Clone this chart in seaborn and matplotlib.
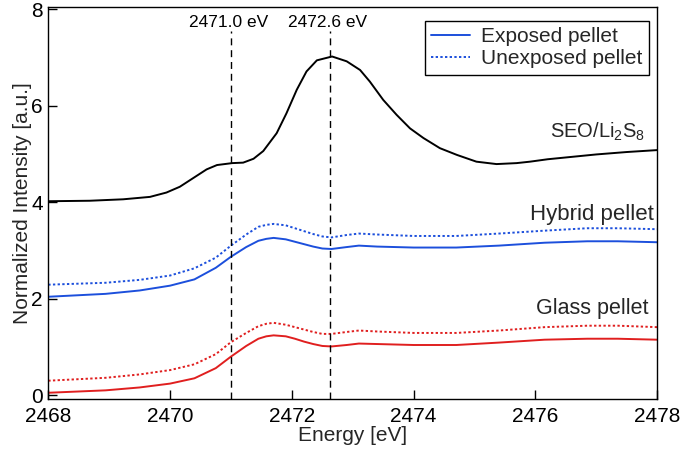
import numpy as np
import pandas as pd
import matplotlib
matplotlib.use("Agg")
import matplotlib.pyplot as plt
from matplotlib.lines import Line2D
import seaborn as sns

# ---- data ----
energy_seo = [2468.0, 2468.68, 2469.23, 2469.67, 2469.94, 2470.16, 2470.38, 2470.60,
              2470.77, 2471.02, 2471.20, 2471.37, 2471.53, 2471.75, 2471.91, 2472.08,
              2472.24, 2472.41, 2472.66, 2472.90, 2473.12, 2473.28, 2473.50, 2473.72,
              2473.94, 2474.16, 2474.43, 2474.71, 2475.03, 2475.36, 2475.69, 2475.91,
              2476.2, 2476.6, 2477.0, 2477.5, 2478.0]
seo_li2s8 = [4.02, 4.03, 4.06, 4.11, 4.20, 4.32, 4.50, 4.68,
             4.77, 4.81, 4.82, 4.90, 5.06, 5.43, 5.84, 6.33,
             6.71, 6.94, 7.02, 6.92, 6.74, 6.50, 6.12, 5.81,
             5.53, 5.33, 5.12, 4.98, 4.84, 4.79, 4.81, 4.84,
             4.89, 4.94, 4.99, 5.04, 5.08]

energy_pellet = [2468.0, 2468.94, 2469.5, 2470.0, 2470.4, 2470.75, 2471.0, 2471.25,
                 2471.45, 2471.58, 2471.7, 2471.9, 2472.05, 2472.2, 2472.35, 2472.5,
                 2472.65, 2472.9, 2473.1, 2473.4, 2474.0, 2474.7, 2475.4, 2476.15,
                 2476.85, 2477.35, 2478.0]
hybrid_exposed = [2.04, 2.10, 2.17, 2.27, 2.40, 2.64, 2.87, 3.07,
                  3.20, 3.24, 3.26, 3.23, 3.18, 3.13, 3.08, 3.04,
                  3.03, 3.07, 3.10, 3.08, 3.06, 3.06, 3.10, 3.16,
                  3.19, 3.19, 3.17]
hybrid_unexposed = [2.29, 2.33, 2.39, 2.48, 2.63, 2.85, 3.10, 3.33,
                    3.49, 3.53, 3.55, 3.52, 3.46, 3.40, 3.34, 3.29,
                    3.27, 3.32, 3.35, 3.33, 3.30, 3.30, 3.35, 3.41,
                    3.46, 3.46, 3.44]
glass_exposed = [0.05, 0.10, 0.16, 0.24, 0.35, 0.56, 0.80, 1.02,
                 1.17, 1.22, 1.24, 1.22, 1.17, 1.11, 1.06, 1.02,
                 1.01, 1.04, 1.07, 1.06, 1.04, 1.04, 1.09, 1.15,
                 1.17, 1.17, 1.15]
glass_unexposed = [0.30, 0.36, 0.43, 0.52, 0.64, 0.85, 1.10, 1.29,
                   1.43, 1.48, 1.50, 1.46, 1.41, 1.36, 1.31, 1.27,
                   1.27, 1.31, 1.34, 1.32, 1.29, 1.29, 1.34, 1.41,
                   1.44, 1.44, 1.41]

peak_lines = [2471.0, 2472.63]
peak_labels = ["2471.0 eV", "2472.6 eV"]
x_ticks = [2468, 2470, 2472, 2474, 2476, 2478]
y_ticks = [0, 2, 4, 6, 8]

# ---- style ----
sns.set_theme(style="ticks")
plt.rcParams["font.family"] = ["Liberation Sans", "DejaVu Sans"]
plt.rcParams["mathtext.fontset"] = "custom"
plt.rcParams["mathtext.rm"] = "Liberation Sans"
plt.rcParams["mathtext.it"] = "Liberation Sans"

BLUE = "#1c4fdc"
RED = "#e01f1f"
DOT = (0, (1.2, 1.2))

fig = plt.figure(figsize=(6.8, 4.55), dpi=100)
ax = fig.add_axes([0.071, 0.123, 0.8956, 0.861])

def draw(x, y, color, ls):
    df = pd.DataFrame({"Energy": x, "Intensity": y})
    sns.lineplot(data=df, x="Energy", y="Intensity", color=color, linestyle=ls,
                 linewidth=1.4, ax=ax, legend=False, sort=False)

draw(energy_seo, seo_li2s8, "black", "-")
draw(energy_pellet, hybrid_unexposed, BLUE, DOT)
draw(energy_pellet, hybrid_exposed, BLUE, "-")
draw(energy_pellet, glass_unexposed, RED, DOT)
draw(energy_pellet, glass_exposed, RED, "-")

ax.set_xlim(2468, 2478)
ax.set_ylim(-0.08, 8.04)

for xv, lab in zip(peak_lines, peak_labels):
    ax.plot([xv, xv], [-0.08, 7.55], color="black", lw=1.0, ls=(0, (5, 3.5)))
    ax.text(xv - 0.04, 7.72, lab, ha="center", va="center", fontsize=12.5, color="black")

ax.text(2477.8, 5.46, "SEO/Li$_2$S$_8$", ha="right", va="center", fontsize=14.5)
ax.text(2477.95, 3.75, "Hybrid pellet", ha="right", va="center", fontsize=16)
ax.text(2477.85, 1.80, "Glass pellet", ha="right", va="center", fontsize=15.5)

ax.set_xticks(x_ticks)
ax.set_yticks(y_ticks)
ax.tick_params(axis="both", direction="in", length=6.5, width=1, labelsize=15,
               colors="black", top=False, right=False)
ax.tick_params(axis="x", pad=6)
ax.tick_params(axis="y", pad=4)
for s in ax.spines.values():
    s.set_visible(True)
    s.set_color("black")
    s.set_linewidth(1.0)

ax.set_xlabel("Energy [eV]", fontsize=15, labelpad=0)
ax.set_ylabel("Normalized Intensity [a.u.]", fontsize=15, labelpad=-1)

handles = [Line2D([], [], color=BLUE, lw=1.4, ls="-"),
           Line2D([], [], color=BLUE, lw=1.4, ls=DOT)]
leg = ax.legend(handles, ["Exposed pellet", "Unexposed pellet"], loc="upper right",
                bbox_to_anchor=(0.987, 0.966), borderaxespad=0, fontsize=15,
                frameon=True, fancybox=False, shadow=False, handlelength=1.85,
                handletextpad=0.55, borderpad=0.32, labelspacing=0.15)
leg.get_frame().set_edgecolor("black")
leg.get_frame().set_linewidth(1.0)
leg.get_frame().set_alpha(1)

fig.savefig("out.png", dpi=100)
